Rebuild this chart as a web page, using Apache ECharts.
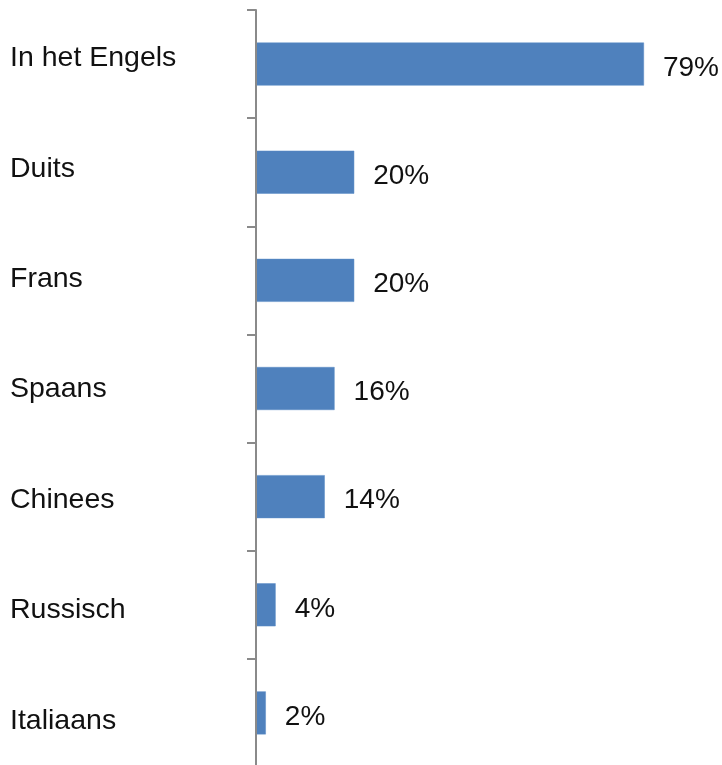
<!DOCTYPE html>
<html>
<head>
<meta charset="utf-8">
<script src="https://cdn.jsdelivr.net/npm/echarts@6/dist/echarts.min.js"></script>
<style>
  html, body { margin: 0; padding: 0; background: #fff; }
  #chart { width: 722px; height: 765px; }
</style>
</head>
<body>
<div id="chart"></div>
<script>
// Talen (percentage van respondenten)
const categories = ['In het Engels', 'Duits', 'Frans', 'Spaans', 'Chinees', 'Russisch', 'Italiaans'];
const percentages = [79, 20, 20, 16, 14, 4, 2];

const axisGray = '#8a8a8a';
const textColor = '#111';
const fontFamily = '"Liberation Sans", Arial, sans-serif';

const chart = echarts.init(document.getElementById('chart'), null, { renderer: 'canvas' });

chart.setOption({
  animation: false,
  backgroundColor: '#fff',
  grid: [
    // bars; the last band runs past the bottom edge
    { left: 256, right: 24, top: 10, height: 757, outerBoundsMode: 'none', containLabel: false },
    // category names (slightly looser spacing than the bar bands)
    { left: 256, right: 24, top: 3, height: 773, outerBoundsMode: 'none', containLabel: false }
  ],
  xAxis: [
    { type: 'value', gridIndex: 0, min: 0, max: 90, show: false },
    { type: 'value', gridIndex: 1, min: 0, max: 90, show: false }
  ],
  yAxis: [
    {
      type: 'category',
      gridIndex: 0,
      inverse: true,
      data: categories,
      z: 5,
      axisLine: { show: true, lineStyle: { color: axisGray, width: 2 } },
      axisTick: { show: true, length: 9, lineStyle: { color: axisGray, width: 2 } },
      axisLabel: { show: false },
      splitLine: { show: false }
    },
    {
      type: 'category',
      gridIndex: 1,
      inverse: true,
      data: categories,
      axisLine: { show: false },
      axisTick: { show: false },
      splitLine: { show: false },
      axisLabel: {
        show: true,
        align: 'left',
        margin: 246,
        fontSize: 28.5,
        fontFamily: fontFamily,
        color: textColor
      }
    }
  ],
  series: [
    {
      type: 'bar',
      xAxisIndex: 0,
      yAxisIndex: 0,
      data: percentages,
      barWidth: 43,
      itemStyle: { color: '#4f81bd', borderColor: '#5b8cc6', borderWidth: 0.5 },
      label: {
        show: true,
        position: 'right',
        distance: 19,
        offset: [0, 4],
        formatter: '{c}%',
        fontSize: 28,
        fontFamily: fontFamily,
        color: textColor
      }
    }
  ]
});
</script>
</body>
</html>
